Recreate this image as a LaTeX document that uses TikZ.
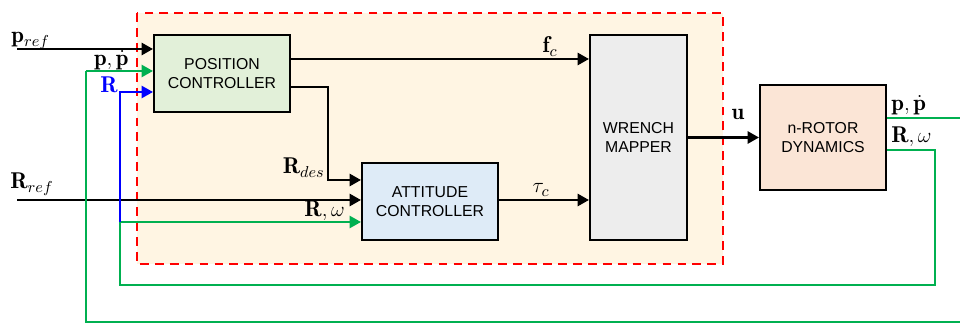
\documentclass[tikz,border=0pt]{standalone}
\usepackage{fontspec}
\setsansfont{Liberation Sans}
\usepackage{amsmath}
\usetikzlibrary{arrows.meta,positioning,calc}
\definecolor{fbgreen}{HTML}{00B050}
\definecolor{ctrlbg}{HTML}{FFF5E3}
\definecolor{posfill}{HTML}{E2F0D9}
\definecolor{attfill}{HTML}{DEEBF7}
\definecolor{wrfill}{HTML}{EDEDED}
\definecolor{rotfill}{HTML}{FBE5D6}

\begin{document}
\begin{tikzpicture}[
    x=0.02cm, y=-0.02cm,
    >={Triangle[length=6.5pt,width=7pt]},
    blk/.style={draw, line width=1.2pt, align=center,
        font=\sffamily\fontsize{9}{11}\selectfont,
        minimum width=2.72cm, minimum height=1.54cm},
    arr/.style={->, line width=1.2pt},
    fb/.style={line width=1.1pt, fbgreen},
    lbl/.style={font=\fontsize{13}{15}\selectfont, inner sep=0pt}
]
    \useasboundingbox (0,0) rectangle (960,323);
    % controller region
    \draw[red, fill=ctrlbg, line width=1.1pt, dash pattern=on 5pt off 3.5pt]
        (137,13) rectangle (723,264);

    \node[blk, fill=posfill] (pos) at (222,73.5) {POSITION\\CONTROLLER};
    \node[blk, fill=attfill] (att) at (430,201.5) {ATTITUDE\\CONTROLLER};
    \node[blk, fill=wrfill, minimum width=1.94cm, minimum height=4.1cm] (wr) at (638.5,137.5) {WRENCH\\MAPPER};
    \node[blk, fill=rotfill, minimum width=2.52cm, minimum height=2.1cm] (rot) at (823,137.5) {n-ROTOR\\DYNAMICS};

    % reference inputs
    \coordinate (pref) at (17,49);
    \coordinate (Rref) at (17,200);
    \draw[arr] (pref) -- (pref -| pos.west);
    \draw[arr] (Rref) -- (Rref -| att.west);
    \node[lbl, anchor=base west] (lpref) at (11,43) {$\mathbf{p}_{ref}$};
    \node[lbl, anchor=base west] (lRref) at (10,189) {$\mathbf{R}_{ref}$};

    % forward path
    \coordinate (fcy) at (0,59);
    \coordinate (rdy) at (0,87);
    \coordinate (rdx) at (328,180);
    \draw[arr] (pos.east |- fcy) -- (wr.west |- fcy);
    \draw[arr] (pos.east |- rdy) -| (rdx) -- (rdx -| att.west);
    \draw[arr] (att.east |- Rref) -- (wr.west |- Rref);
    \draw[arr] (wr.east) -- (rot.west);
    \node[lbl, anchor=base] (lfc) at (550,53) {$\mathbf{f}_c$};
    \node[lbl, anchor=base] (ltau) at (541,193) {$\tau_c$};
    \node[lbl, anchor=base] (lu) at (738,120) {$\mathbf{u}$};
    \node[lbl, anchor=base east] (lRdes) at (325,174) {$\mathbf{R}_{des}$};

    % feedback
    \coordinate (py) at (0,118);
    \coordinate (Ry) at (0,150);
    \coordinate (pin) at (86,71);
    \coordinate (Rin) at (120,222);
    \coordinate (Bin) at (120,92);
    \draw[fb] (rot.east |- py) -- (975,118) -- (975,322) -- (86,322) -- (pin);
    \draw[fb, ->] (pin) -- (pin -| pos.west);
    \draw[fb] (rot.east |- Ry) -- (935,150) -- (935,285) -- (120,285) -- (Rin);
    \draw[fb, ->] (Rin) -- (Rin -| att.west);
    \draw[blue, line width=1.1pt, ->] (Rin) -- (Bin) -- (Bin -| pos.west);

    \node[lbl, anchor=base east] (lpin) at (129,66) {$\mathbf{p},\dot{\mathbf{p}}$};
    \node[lbl, anchor=base east, text=blue] (lBin) at (118,93) {$\mathbf{R}$};
    \node[lbl, anchor=base east] (lRin) at (345,217) {$\mathbf{R},\omega$};
    \node[lbl, anchor=base west] (lpout) at (891,111) {$\mathbf{p},\dot{\mathbf{p}}$};
    \node[lbl, anchor=base west] (lRout) at (891,143) {$\mathbf{R},\omega$};
\end{tikzpicture}
\end{document}
